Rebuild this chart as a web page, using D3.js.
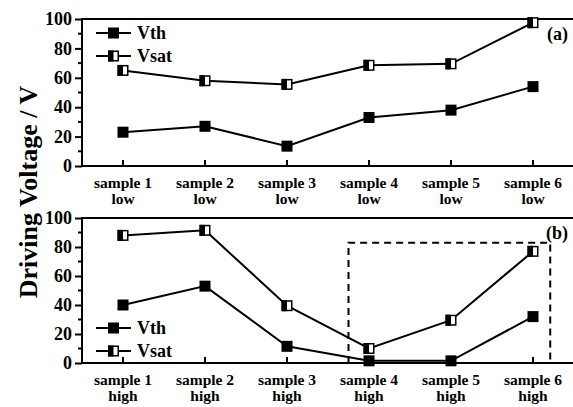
<!DOCTYPE html>
<html>
<head>
<meta charset="utf-8">
<script src="https://cdn.jsdelivr.net/npm/d3@7"></script>
<style>
body { margin: 0; background: #fff; }
text { font-family: "Liberation Serif", "Times New Roman", serif; font-weight: bold; fill: #000; }
</style>
</head>
<body>
<div id="chart"></div>
<script>
var samples = ["sample 1", "sample 2", "sample 3", "sample 4", "sample 5", "sample 6"];
var lowVth = [23, 27, 13.5, 33, 38, 54];
var lowVsat = [65, 58, 55.5, 68.5, 69.5, 97.5];
var highVth = [40, 53, 11.5, 1.5, 1.5, 32];
var highVsat = [88, 91.5, 39.5, 10, 29.5, 77];
var yTicks = [0, 20, 40, 60, 80, 100];
var minorTicks = [10, 30, 50, 70, 90];

var width = 573, height = 407;
var svg = d3.select("#chart").append("svg")
	.attr("width", width)
	.attr("height", height);

var x = d3.scalePoint()
	.domain(samples)
	.range([82, 574])
	.padding(0.5);

// one entry per panel
var panels = [
	{ top: 19, bottom: 166, vth: lowVth, vsat: lowVsat, sub: "low", tag: "(a)", legendY: 33 },
	{ top: 218, bottom: 363, vth: highVth, vsat: highVsat, sub: "high", tag: "(b)", legendY: 328 }
];

function drawMarker(g, cx, cy, half) {
	var s = 11;
	if (!half) {
		g.append("rect").attr("x", cx - s/2).attr("y", cy - s/2).attr("width", s).attr("height", s)
			.attr("fill", "#000");
	} else {
		g.append("rect").attr("x", cx - s/2 + 0.75).attr("y", cy - s/2 + 0.75).attr("width", s - 1.5).attr("height", s - 1.5)
			.attr("fill", "#fff").attr("stroke", "#000").attr("stroke-width", 1.5);
		g.append("rect").attr("x", cx - s/2).attr("y", cy - s/2).attr("width", s/2).attr("height", s)
			.attr("fill", "#000");
	}
}

panels.forEach(function(p) {
	var y = d3.scaleLinear().domain([0, 100]).range([p.bottom, p.top]);
	var g = svg.append("g");

	// frame
	g.append("line").attr("x1", 82).attr("x2", 574).attr("y1", p.top).attr("y2", p.top)
		.attr("stroke", "#000").attr("stroke-width", 2);
	g.append("line").attr("x1", 82).attr("x2", 574).attr("y1", p.bottom).attr("y2", p.bottom)
		.attr("stroke", "#000").attr("stroke-width", 2);
	g.append("line").attr("x1", 82).attr("x2", 82).attr("y1", p.top - 1).attr("y2", p.bottom + 1)
		.attr("stroke", "#000").attr("stroke-width", 2);

	// y axis
	var yAxis = g.append("g").attr("transform", "translate(82,0)")
		.call(d3.axisLeft(y).tickValues(yTicks).tickSize(7).tickPadding(3));
	yAxis.select(".domain").remove();
	yAxis.selectAll("line").attr("stroke-width", 2);
	yAxis.selectAll("text").style("font-size", "18px").style("font-family", "Liberation Serif").style("font-weight", "bold");
	g.selectAll(".minor").data(minorTicks).enter().append("line")
		.attr("x1", 78).attr("x2", 82)
		.attr("y1", function(d) { return y(d); }).attr("y2", function(d) { return y(d); })
		.attr("stroke", "#000").attr("stroke-width", 2);

	// x ticks (inward)
	g.selectAll(".xt").data(samples).enter().append("line")
		.attr("x1", function(d) { return x(d); }).attr("x2", function(d) { return x(d); })
		.attr("y1", p.bottom).attr("y2", p.bottom - 6)
		.attr("stroke", "#000").attr("stroke-width", 2);
	var lab = g.selectAll(".xl").data(samples).enter().append("text")
		.attr("text-anchor", "middle")
		.style("font-size", "15.5px");
	lab.append("tspan").attr("x", function(d) { return x(d); }).attr("y", p.bottom + 22).text(function(d) { return d; });
	lab.append("tspan").attr("x", function(d) { return x(d); }).attr("y", p.bottom + 38).text(p.sub);

	// lines
	var line = d3.line()
		.x(function(d, i) { return x(samples[i]); })
		.y(function(d) { return y(d); });
	[p.vth, p.vsat].forEach(function(series, k) {
		g.append("path").datum(series).attr("d", line)
			.attr("fill", "none").attr("stroke", "#000").attr("stroke-width", 2);
		series.forEach(function(v, i) { drawMarker(g, x(samples[i]), y(v), k == 1); });
	});

	// legend
	[["Vth", false], ["Vsat", true]].forEach(function(item, k) {
		var ly = p.legendY + k * 23;
		g.append("line").attr("x1", 96).attr("x2", 131).attr("y1", ly).attr("y2", ly)
			.attr("stroke", "#000").attr("stroke-width", 2);
		drawMarker(g, 113.5, ly, item[1]);
		g.append("text").attr("x", 137).attr("y", ly + 6).style("font-size", "18px").text(item[0]);
	});

	g.append("text").attr("x", 568).attr("y", p.top + 21).attr("text-anchor", "end")
		.style("font-size", "18px").text(p.tag);

	p.y = y;
});

// dashed box in panel (b)
var pb = panels[1];
var step = x.step();
var bx1 = x("sample 4") - step * 0.25, bx2 = x("sample 6") + step * 0.21;
svg.append("path")
	.attr("d", "M" + bx1 + "," + pb.bottom + "V" + pb.y(83) + "H" + bx2 + "V" + pb.bottom)
	.attr("fill", "none").attr("stroke", "#000").attr("stroke-width", 2).attr("stroke-dasharray", "7,5");

// y title
svg.append("text")
	.attr("transform", "translate(37,192) rotate(-90)")
	.attr("text-anchor", "middle")
	.style("font-size", "26px")
	.text("Driving Voltage / V");
</script>
</body>
</html>
